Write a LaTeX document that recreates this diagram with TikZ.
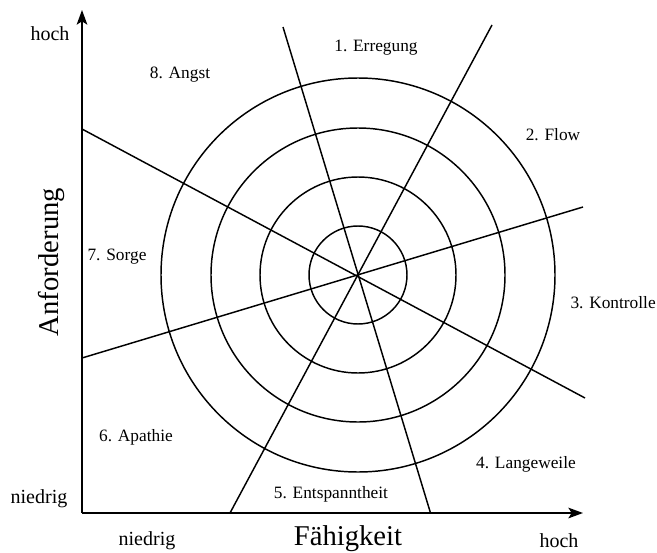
\documentclass[tikz,border=0pt]{standalone}
\usepackage{fontspec}
\setmainfont{Liberation Serif}
\usetikzlibrary{arrows.meta}
\tikzset{
  zonelabel/.style={font=\fontsize{13}{15}\selectfont,inner sep=0pt},
  scalelabel/.style={font=\fontsize{15}{18}\selectfont,inner sep=0pt},
  axistitle/.style={font=\fontsize{21.5}{25}\selectfont,inner sep=0pt},
  axisline/.style={-{Stealth[length=11pt,width=8pt,inset=2.5pt]},line width=1.1pt},
  ring/.style={line width=1.1pt},
  divider/.style={line width=1.1pt}
}
\begin{document}
\begin{tikzpicture}[x=0.75pt,y=-0.75pt]
  \useasboundingbox (0,0) rectangle (657,553);
  % axes
  \coordinate (orig) at (82,513);
  \coordinate (ytip) at (82,10);
  \coordinate (xtip) at (583,513);
  \draw[axisline] (orig) -- (ytip);
  \draw[axisline] (orig) -- (xtip);

  % rings round the centre
  \coordinate (ctr) at (358,275);
  \foreach \r in {49,98,147,197}
    \draw[ring] (ctr) circle[radius=\r];

  % dividing lines
  \coordinate (a1) at (283,27);  \coordinate (a2) at (430.5,513);
  \coordinate (b1) at (492,25);  \coordinate (b2) at (230,513);
  \coordinate (c1) at (82,129);  \coordinate (c2) at (585,398);
  \coordinate (d1) at (82,358);  \coordinate (d2) at (583,207);
  \draw[divider] (a1) -- (a2);
  \draw[divider] (b1) -- (b2);
  \draw[divider] (c1) -- (c2);
  \draw[divider] (d1) -- (d2);

  % zones
  \node[zonelabel] (erregung) at (376,48) {1. Erregung};
  \node[zonelabel] (flow) at (553,135) {2. Flow};
  \node[zonelabel,anchor=east] (kontrolle) at (656,303) {3. Kontrolle};
  \node[zonelabel] (langeweile) at (526,464) {4. Langeweile};
  \node[zonelabel] (entspannt) at (331,494) {5. Entspanntheit};
  \node[zonelabel] (apathie) at (136,437) {6. Apathie};
  \node[zonelabel] (sorge) at (117,257) {7. Sorge};
  \node[zonelabel] (angst) at (180,75) {8. Angst};

  % axis labels
  \node[scalelabel] (yhoch) at (50,34) {hoch};
  \node[scalelabel] (yniedrig) at (39,499) {niedrig};
  \node[scalelabel] (xniedrig) at (147,541) {niedrig};
  \node[scalelabel] (xhoch) at (559,541) {hoch};
  \node[axistitle] (faehig) at (348,539) {Fähigkeit};
  \node[axistitle,rotate=90] (anford) at (52,262) {Anforderung};
\end{tikzpicture}
\end{document}
